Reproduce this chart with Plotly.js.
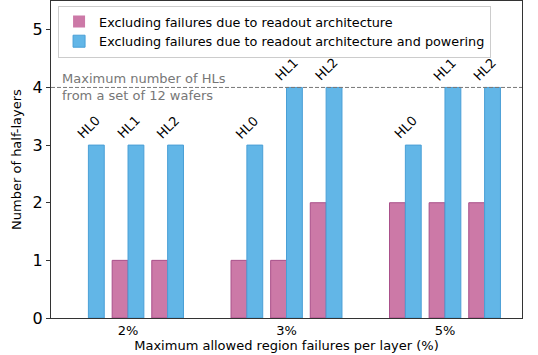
<!DOCTYPE html>
<html>
<head>
<meta charset="utf-8">
<script src="https://cdn.plot.ly/plotly-3.0.1.min.js"></script>
<style>
  body { margin: 0; background: #fff; }
  #chart { width: 538px; height: 355px; }
</style>
</head>
<body>
<div id="chart"></div>
<script>
// categories on the x axis
var categories = ['2%', '3%', '5%'];
var halfLayers = ['HL0', 'HL1', 'HL2'];

// values per category, HL0..HL2
var readout2 = [0, 1, 1];
var readout3 = [1, 1, 2];
var readout5 = [2, 2, 2];
var powering2 = [3, 3, 3];
var powering3 = [3, 4, 4];
var powering5 = [3, 4, 4];

var maxHL = 4;

var readout = [readout2, readout3, readout5];
var powering = [powering2, powering3, powering5];

var barW = 0.1;
var pitch = 0.25;

var xr = [], yr = [], lr = [], xp = [], yp = [];
var annotations = [];
categories.forEach(function (c, ci) {
    halfLayers.forEach(function (hl, k) {
        var center = ci + (k - 1) * pitch;
        xr.push(center - barW / 2); yr.push(readout[ci][k]);
        lr.push(readout[ci][k] > 0 ? 1 : 0);
        xp.push(center + barW / 2); yp.push(powering[ci][k]);
        // rotated HL label above the pair
        annotations.push({
            x: center, y: Math.max(readout[ci][k], powering[ci][k]),
            xref: 'x', yref: 'y', text: hl, showarrow: false,
            textangle: -45, xanchor: 'center', yanchor: 'bottom',
            yshift: 1,
            font: {family: 'DejaVu Sans', size: 13, color: '#000'}
        });
    });
});

annotations.push({
    x: 0.02, xref: 'paper', y: maxHL, yref: 'y',
    xanchor: 'left', yanchor: 'middle', align: 'left', showarrow: false,
    text: 'Maximum number of HLs<br>from a set of 12 wafers',
    font: {family: 'DejaVu Sans', size: 13, color: '#777'}
});

var traces = [
    {
        type: 'bar', x: xr, y: yr, width: barW,
        name: 'Excluding failures due to readout architecture',
        marker: {color: '#cc79a7', line: {color: '#a9508a', width: lr}}
    },
    {
        type: 'bar', x: xp, y: yp, width: barW,
        name: 'Excluding failures due to readout architecture and powering',
        marker: {color: '#62b6e7', line: {color: '#4a9fd6', width: 1}}
    }
];

var layout = {
    width: 538, height: 355,
    margin: {l: 51, r: 16, t: 1, b: 37},
    paper_bgcolor: '#fff', plot_bgcolor: '#fff',
    font: {family: 'DejaVu Sans', color: '#000'},
    barmode: 'overlay',
    showlegend: true,
    legend: {
        x: 0.015, y: 0.985, xanchor: 'left', yanchor: 'top',
        bgcolor: 'rgba(255,255,255,0.8)', bordercolor: '#ccc', borderwidth: 1,
        font: {family: 'DejaVu Sans', size: 12.8, color: '#000'},
        tracegroupgap: 0, itemwidth: 30
    },
    xaxis: {
        range: [-0.486, 2.486],
        tickvals: [0, 1, 2], ticktext: categories,
        ticks: '', showgrid: false, zeroline: false,
        showline: true, linecolor: '#333', linewidth: 1, mirror: true,
        tickfont: {size: 13},
        title: {text: 'Maximum allowed region failures per layer (%)', font: {size: 13}, standoff: 2}
    },
    yaxis: {
        range: [0, 5.5],
        tickvals: [0, 1, 2, 3, 4, 5],
        ticks: 'outside', ticklen: 4, tickcolor: '#333',
        showgrid: false, zeroline: false,
        showline: true, linecolor: '#333', linewidth: 1, mirror: true,
        tickfont: {size: 16},
        title: {text: 'Number of half-layers', font: {size: 13}, standoff: 8}
    },
    shapes: [{
        type: 'line', xref: 'paper', x0: 0, x1: 1, yref: 'y', y0: maxHL, y1: maxHL,
        line: {color: '#777', width: 1, dash: '4px,2px'}
    }],
    annotations: annotations
};

Plotly.newPlot('chart', traces, layout, {displayModeBar: false});
</script>
</body>
</html>
